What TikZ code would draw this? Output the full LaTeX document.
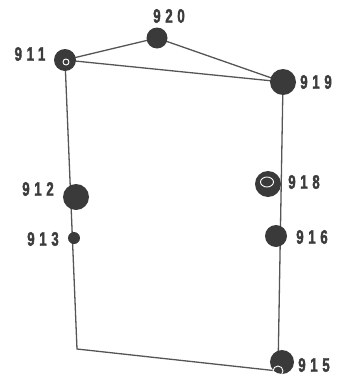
\documentclass[tikz,border=0pt]{standalone}
\usepackage{fontspec}
\newfontfamily\lblfont{Liberation Sans Bold}[FakeStretch=0.68, LetterSpace=24, FakeBold=1.8]
\usetikzlibrary{backgrounds,shapes.geometric}
\definecolor{cdot}{HTML}{3A3A3A}
\definecolor{cline}{HTML}{555555}
\definecolor{ctxt}{HTML}{3C3C3C}

\begin{document}
\begin{tikzpicture}[
  x=1pt, y=-1pt,
  dot/.style={circle, fill=cdot, inner sep=0pt},
  hole/.style={circle, draw=white, line width=0.9pt, inner sep=0pt},
  edge/.style={draw=cline, line width=1.3pt},
  num/.style={font=\lblfont\fontsize{19.5}{19.5}\selectfont, text=ctxt, inner sep=0pt},
]
\useasboundingbox (0,0) rectangle (339,378);

% ------------------------------------------------------------------ stations
\node[dot, minimum size=22pt] (n911) at (65,60) {};
\node[hole, minimum size=6pt] (h911) at (66,62) {};
\node[dot, minimum size=21pt] (n920) at (157,38) {};
\node[dot, minimum size=26pt] (n919) at (283,82) {};
\node[dot, minimum size=26pt] (n912) at (76,197) {};
\node[dot, minimum size=12pt] (n913) at (74,238) {};
\node[dot, minimum size=26pt] (n918) at (268,184) {};
\node[hole, ellipse, minimum width=13pt, minimum height=10pt] (h918) at (267,182) {};
\node[dot, minimum size=22pt] (n916) at (276,236) {};
\node[dot, minimum size=24pt] (n915) at (282,362) {};
\node[hole, minimum size=10pt] (h915) at (278,371) {};
\coordinate (cnr) at (77,349);

% ------------------------------------------------------------------ labels
\node[num] (l911) at (30,54) {911};
\node[num] (l920) at (169,16) {920};
\node[num] (l919) at (316,82) {919};
\node[num] (l912) at (38,189) {912};
\node[num] (l913) at (43,239) {913};
\node[num] (l918) at (304,182) {918};
\node[num] (l916) at (312,237) {916};
\node[num] (l915) at (314,365) {915};

% ------------------------------------------------------------------ lines
\begin{scope}[on background layer]
  \draw[edge] (n911.center) -- (n920.center) -- (n919.center) -- (n911.center);
  \draw[edge] (n911.center) -- (cnr) -- (h915.center);
  \draw[edge] (n919.center) -- (h915.center);
\end{scope}
\end{tikzpicture}
\end{document}
